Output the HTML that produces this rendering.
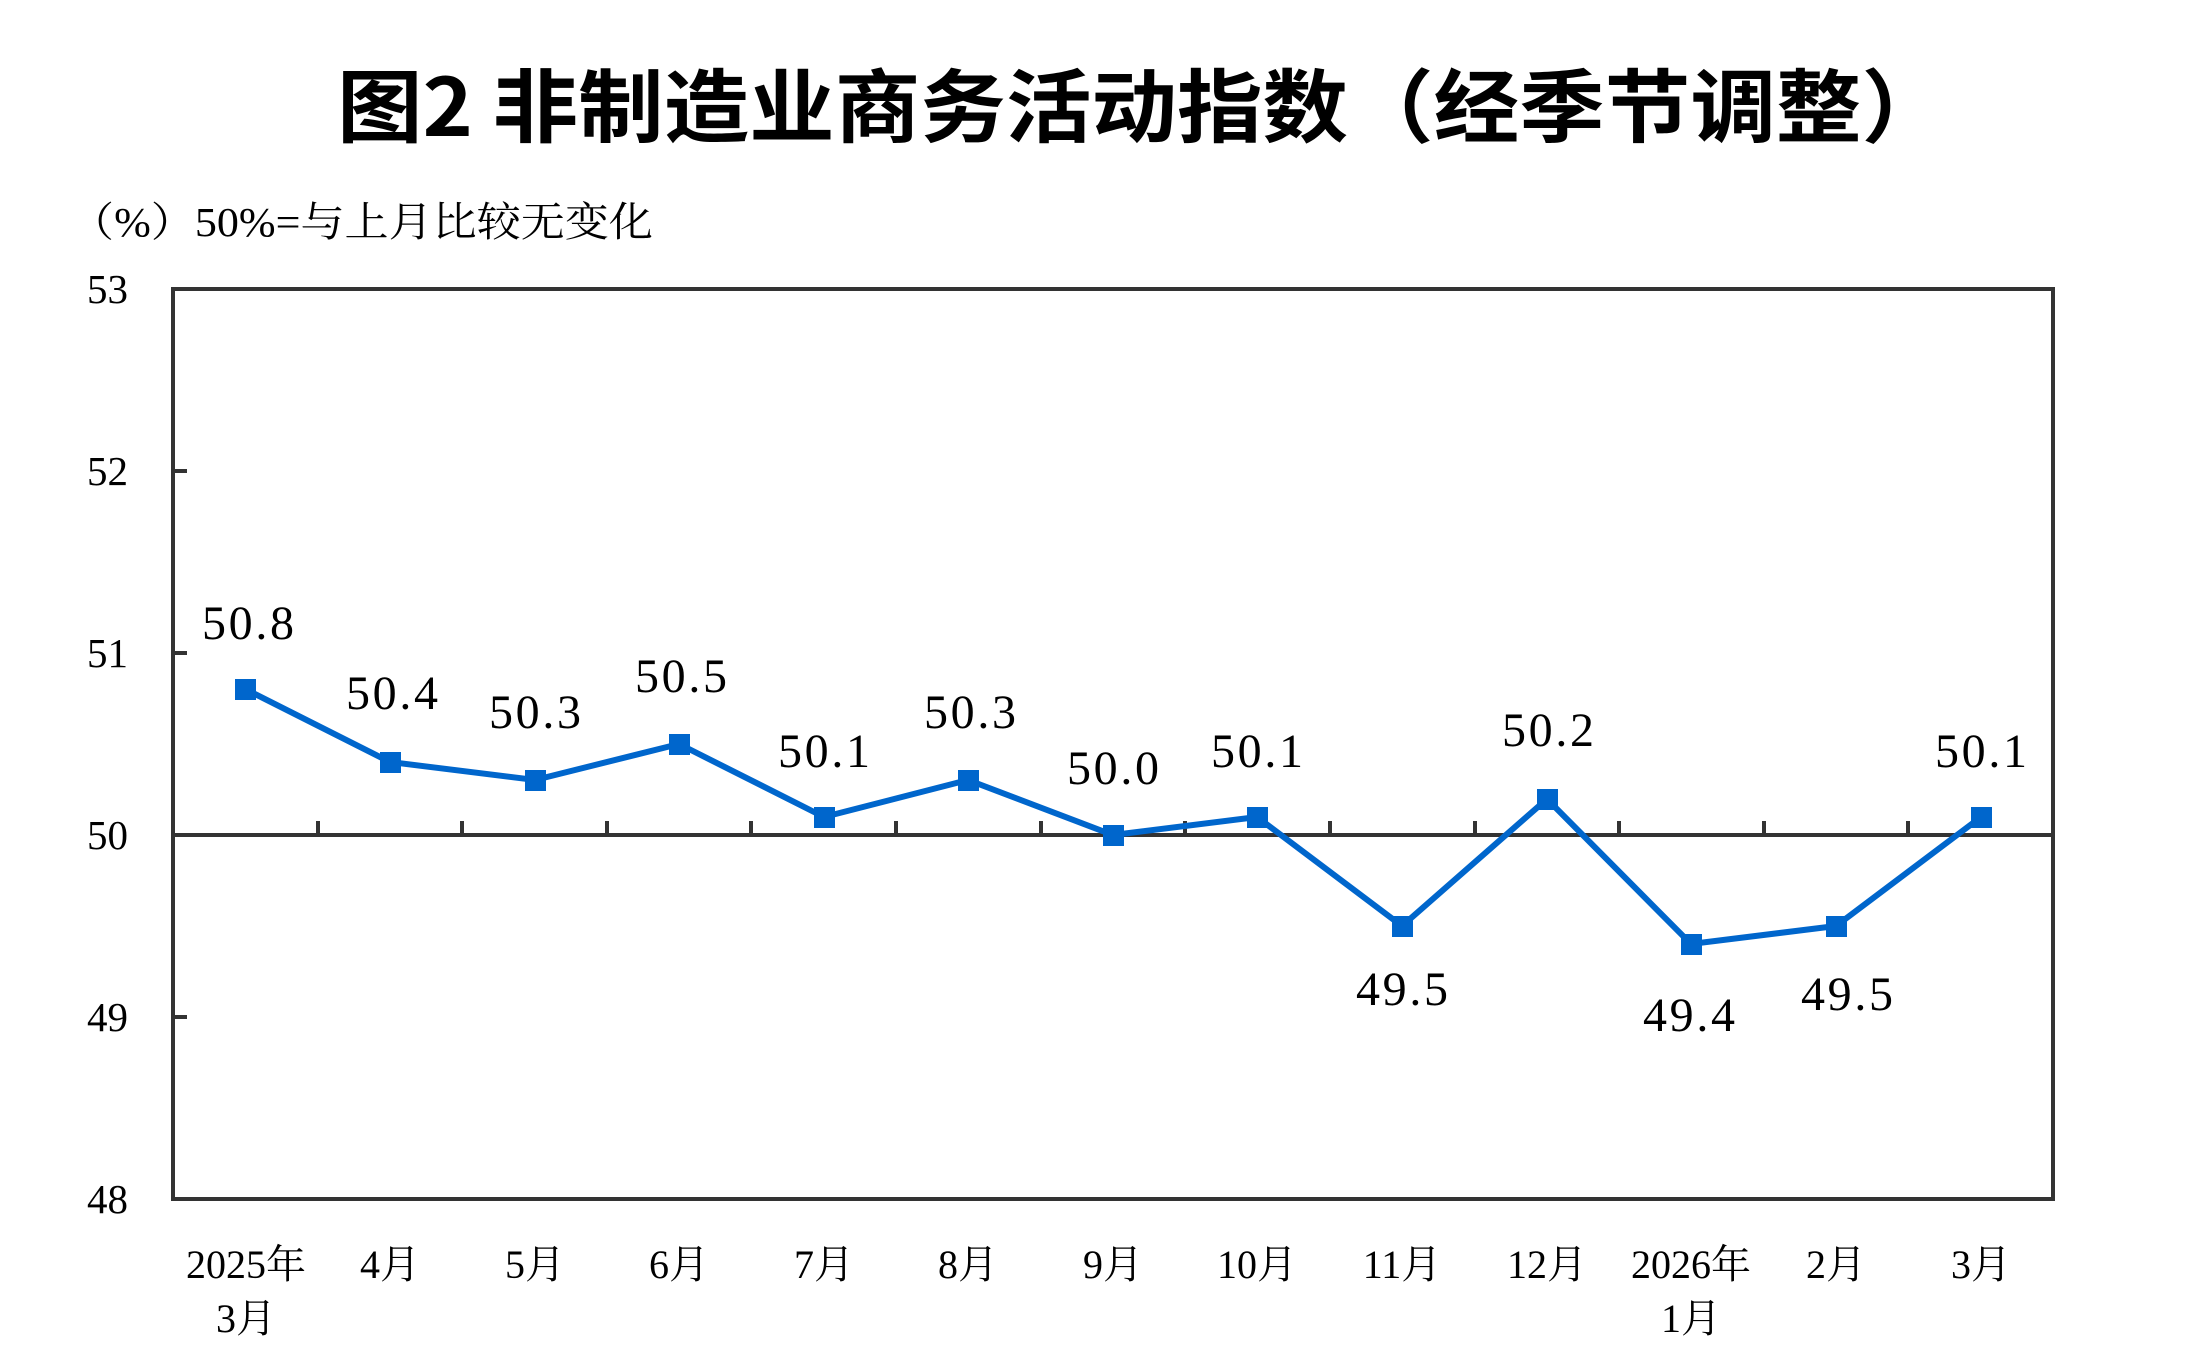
<!DOCTYPE html>
<html><head><meta charset="utf-8"><style>
html,body{margin:0;padding:0;background:#fff;}
svg{display:block;}
</style></head><body>
<svg width="2212" height="1372" viewBox="0 0 2212 1372" xmlns="http://www.w3.org/2000/svg">
<rect width="2212" height="1372" fill="#fff"/>
<text x="337" y="136" font-family="'Noto Sans CJK SC','WenQuanYi Zen Hei',sans-serif" font-weight="bold" font-size="80" textLength="1610" lengthAdjust="spacingAndGlyphs" fill="#000">图2  非制造业商务活动指数（经季节调整）</text>
<text x="70" y="236" font-family="'Liberation Serif','Noto Serif CJK SC',serif" font-size="41" textLength="583" lengthAdjust="spacingAndGlyphs" fill="#000">（%）50%=与上月比较无变化</text>
<g font-family="'Liberation Serif',serif" font-size="41" fill="#000" text-anchor="end">
<text x="128" y="303">53</text>
<text x="128" y="485">52</text>
<text x="128" y="667">51</text>
<text x="128" y="849">50</text>
<text x="128" y="1031">49</text>
<text x="128" y="1213">48</text>
</g>
<g stroke="#333" stroke-width="4" fill="none">
<rect x="173" y="289" width="1880" height="910"/>
<line x1="173" y1="835" x2="2053" y2="835"/>
<line x1="173" y1="471" x2="187" y2="471"/>
<line x1="173" y1="653" x2="187" y2="653"/>
<line x1="173" y1="1017" x2="187" y2="1017"/>
<path d="M318 835v-14M462 835v-14M607 835v-14M751 835v-14M896 835v-14M1041 835v-14M1185 835v-14M1330 835v-14M1475 835v-14M1619 835v-14M1764 835v-14M1908 835v-14"/>
</g>
<polyline fill="none" stroke="#0066CC" stroke-width="6" stroke-linejoin="miter" points="245,689 390,762 535,780 679,744 824,817 968,780 1113,835 1257,817 1402,926 1547,799 1691,944 1836,926 1981,817"/>
<g fill="#0066CC">
<rect x="235" y="679" width="21" height="21"/>
<rect x="380" y="752" width="21" height="21"/>
<rect x="525" y="770" width="21" height="21"/>
<rect x="669" y="734" width="21" height="21"/>
<rect x="814" y="807" width="21" height="21"/>
<rect x="958" y="770" width="21" height="21"/>
<rect x="1103" y="825" width="21" height="21"/>
<rect x="1247" y="807" width="21" height="21"/>
<rect x="1392" y="916" width="21" height="21"/>
<rect x="1537" y="789" width="21" height="21"/>
<rect x="1681" y="934" width="21" height="21"/>
<rect x="1826" y="916" width="21" height="21"/>
<rect x="1971" y="807" width="21" height="21"/>
</g>
<g font-family="'Liberation Serif',serif" font-size="48" fill="#000" text-anchor="middle">
<text x="248" y="639" textLength="92">50.8</text>
<text x="392" y="709" textLength="92">50.4</text>
<text x="535" y="728" textLength="92">50.3</text>
<text x="681" y="692" textLength="92">50.5</text>
<text x="824" y="767" textLength="92">50.1</text>
<text x="970" y="728" textLength="92">50.3</text>
<text x="1113" y="784" textLength="92">50.0</text>
<text x="1257" y="767" textLength="92">50.1</text>
<text x="1402" y="1005" textLength="92">49.5</text>
<text x="1548" y="746" textLength="92">50.2</text>
<text x="1689" y="1031" textLength="92">49.4</text>
<text x="1847" y="1010" textLength="92">49.5</text>
<text x="1981" y="767" textLength="92">50.1</text>
</g>
<g font-family="'Liberation Serif','Noto Serif CJK SC',serif" font-size="40" fill="#000" text-anchor="middle">
<text x="246" y="1278">2025年</text>
<text x="246" y="1332">3月</text>
<text x="390" y="1278">4月</text>
<text x="535" y="1278">5月</text>
<text x="679" y="1278">6月</text>
<text x="824" y="1278">7月</text>
<text x="968" y="1278">8月</text>
<text x="1113" y="1278">9月</text>
<text x="1257" y="1278">10月</text>
<text x="1402" y="1278">11月</text>
<text x="1547" y="1278">12月</text>
<text x="1691" y="1278">2026年</text>
<text x="1691" y="1332">1月</text>
<text x="1836" y="1278">2月</text>
<text x="1981" y="1278">3月</text>
</g>
</svg>
</body></html>
